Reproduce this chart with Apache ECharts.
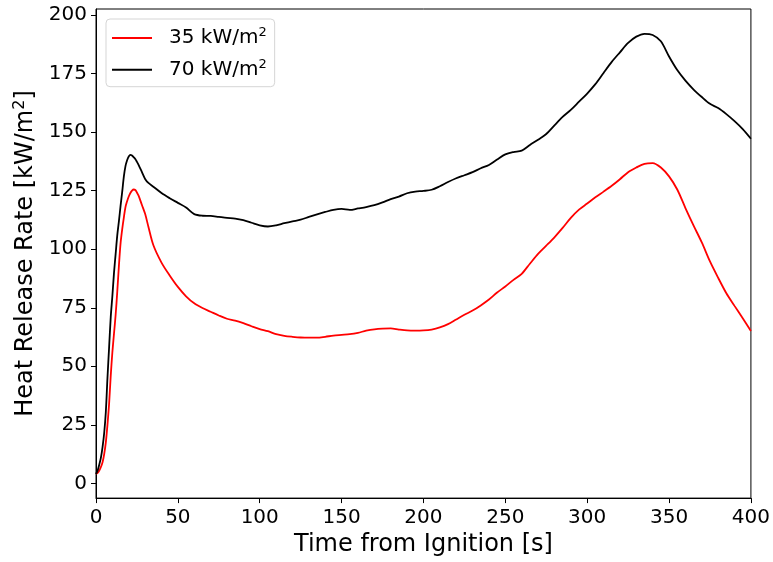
<!DOCTYPE html>
<html>
<head>
<meta charset="utf-8">
<script src="https://cdn.jsdelivr.net/npm/echarts@6/dist/echarts.min.js"></script>
<style>
html,body{margin:0;padding:0;background:#fff;}
#chart{width:773px;height:562px;}
</style>
</head>
<body>
<div id="chart"></div>
<script>
const times = [0,1,2,3,4,5,6,7,8,9,10,11,12,13,14,15,16,17,18,19,20,21,22,23,24,25,26,28,30,32,35,
  40,45,50,55,60,65,70,75,80,85,90,95,100,105,110,115,120,125,130,135,140,145,150,155,160,165,170,175,180,185,190,195,
  200,205,210,215,220,225,230,235,240,245,250,255,260,265,270,275,280,285,290,295,300,305,310,315,320,325,330,335,340,345,
  350,355,360,365,370,375,380,385,390,395,400];

const hrr70 = [4,5.5,8,11,15.5,21.5,30.5,45,58,71,80,90,98,106,112,118.5,124.5,131,135.5,138,139.6,140.3,140,139.3,138.5,137.3,136,133,130,128.3,126.7,
  124,121.8,119.8,117.8,115,114.3,114.2,113.8,113.4,113.1,112.4,111.3,110.2,109.7,110.2,111.1,111.9,112.6,113.8,114.9,115.9,116.8,117.2,116.8,117.4,118,118.8,120,121.4,122.5,123.9,124.6,
  124.9,125.4,126.9,128.7,130.3,131.6,132.9,134.6,136,138.3,140.5,141.5,142.1,144.5,146.8,149.2,152.9,156.5,159.5,163,166.5,170.5,175.3,180,184.1,188.1,190.8,192,191.5,188.8,
  182.3,176.5,172,168.2,165,162.1,160.3,157.7,154.7,151.3,147.2];

const hrr35 = [4,4.5,5.5,7,9,12.5,17.5,25,34,46,56,64,72,82,93,102.5,108.5,113.5,118,120.5,122.5,124,125,125.5,125.3,124.2,122.9,119,115.1,109.6,101.8,
  94.3,88.8,83.9,79.9,76.9,74.9,73.3,71.7,70.3,69.5,68.4,67.1,65.9,65,63.7,63,62.6,62.3,62.2,62.2,62.6,63.1,63.4,63.7,64.3,65.2,65.8,66.1,66.2,65.7,65.3,65.2,
  65.3,65.7,66.6,68,70,72,73.8,76,78.5,81.5,84.1,86.9,89.5,93.8,98,101.5,105.1,109.1,113.4,116.9,119.5,122.2,124.6,127.1,129.9,132.9,134.9,136.5,136.8,134.9,
  131.1,125.5,117.6,110.1,102.9,94.8,87.8,81.2,75.8,70.5,65.1];

const xTicks = [0,50,100,150,200,250,300,350,400];
const yTicks = [0,25,50,75,100,125,150,175,200];
const seriesNames = ['35 kW/m²','70 kW/m²'];

const FONT = 'DejaVu Sans';
const chart = echarts.init(document.getElementById('chart'), null, {renderer:'canvas'});

function pair(vals){ return times.map((t,i)=>[t, vals[i]]); }

chart.setOption({
  animation:false,
  backgroundColor:'#fff',
  textStyle:{fontFamily:FONT},
  grid:{left:96, right:21, top:9, bottom:62.5, show:true, borderColor:'#000', borderWidth:1, backgroundColor:'transparent'},
  legend:{
    left:106, top:19,
    orient:'vertical',
    data:seriesNames,
    icon:'rect',
    itemWidth:40, itemHeight:2, itemGap:9.7,
    padding:[7,8,7,6],
    backgroundColor:'rgba(255,255,255,0.8)',
    borderColor:'#d5d5d5', borderWidth:1, borderRadius:4,
    formatter: n => '{b|' + n.replace('²','') + '}{s|2}',
    textStyle:{
      padding:[0,0,0,12],
      rich:{
        b:{fontFamily:FONT, fontSize:20, color:'#000', lineHeight:24},
        s:{fontFamily:FONT, fontSize:13, color:'#000', lineHeight:13, verticalAlign:'top'}
      }
    }
  },
  xAxis:{
    type:'value', min:0, max:400, interval:50,
    name:'Time from Ignition [s]', nameLocation:'middle', nameGap:31,
    nameTextStyle:{fontFamily:FONT, fontSize:24, color:'#000'},
    axisLine:{show:true, onZero:false, lineStyle:{color:'#000', width:1}},
    axisTick:{show:true, length:5, lineStyle:{color:'#000', width:1}, customValues:xTicks},
    axisLabel:{fontFamily:FONT, fontSize:20, color:'#000', margin:10, customValues:xTicks},
    splitLine:{show:false}
  },
  yAxis:{
    type:'value', min:-6.3, max:202.6,
    name:'{b|Heat Release Rate [kW/m}{s|2}{b|]}', nameLocation:'middle', nameGap:56, nameRotate:90,
    nameTextStyle:{
      fontFamily:FONT, fontSize:24, color:'#000',
      rich:{
        b:{fontFamily:FONT, fontSize:24, color:'#000', lineHeight:28},
        s:{fontFamily:FONT, fontSize:16, color:'#000', lineHeight:16, verticalAlign:'top'}
      }
    },
    axisLine:{show:true, onZero:false, lineStyle:{color:'#000', width:1}},
    axisTick:{show:true, length:5, lineStyle:{color:'#000', width:1}, customValues:yTicks},
    axisLabel:{fontFamily:FONT, fontSize:20, color:'#000', margin:9, padding:[4,0,0,0], customValues:yTicks},
    splitLine:{show:false}
  },
  series:[
    {name:seriesNames[0], type:'line', data:pair(hrr35), symbol:'none', smooth:0.3,
     lineStyle:{color:'#ff0000', width:1.8}, itemStyle:{color:'#ff0000'}},
    {name:seriesNames[1], type:'line', data:pair(hrr70), symbol:'none', smooth:0.3,
     lineStyle:{color:'#000000', width:1.8}, itemStyle:{color:'#000000'}}
  ]
});
</script>
</body>
</html>
